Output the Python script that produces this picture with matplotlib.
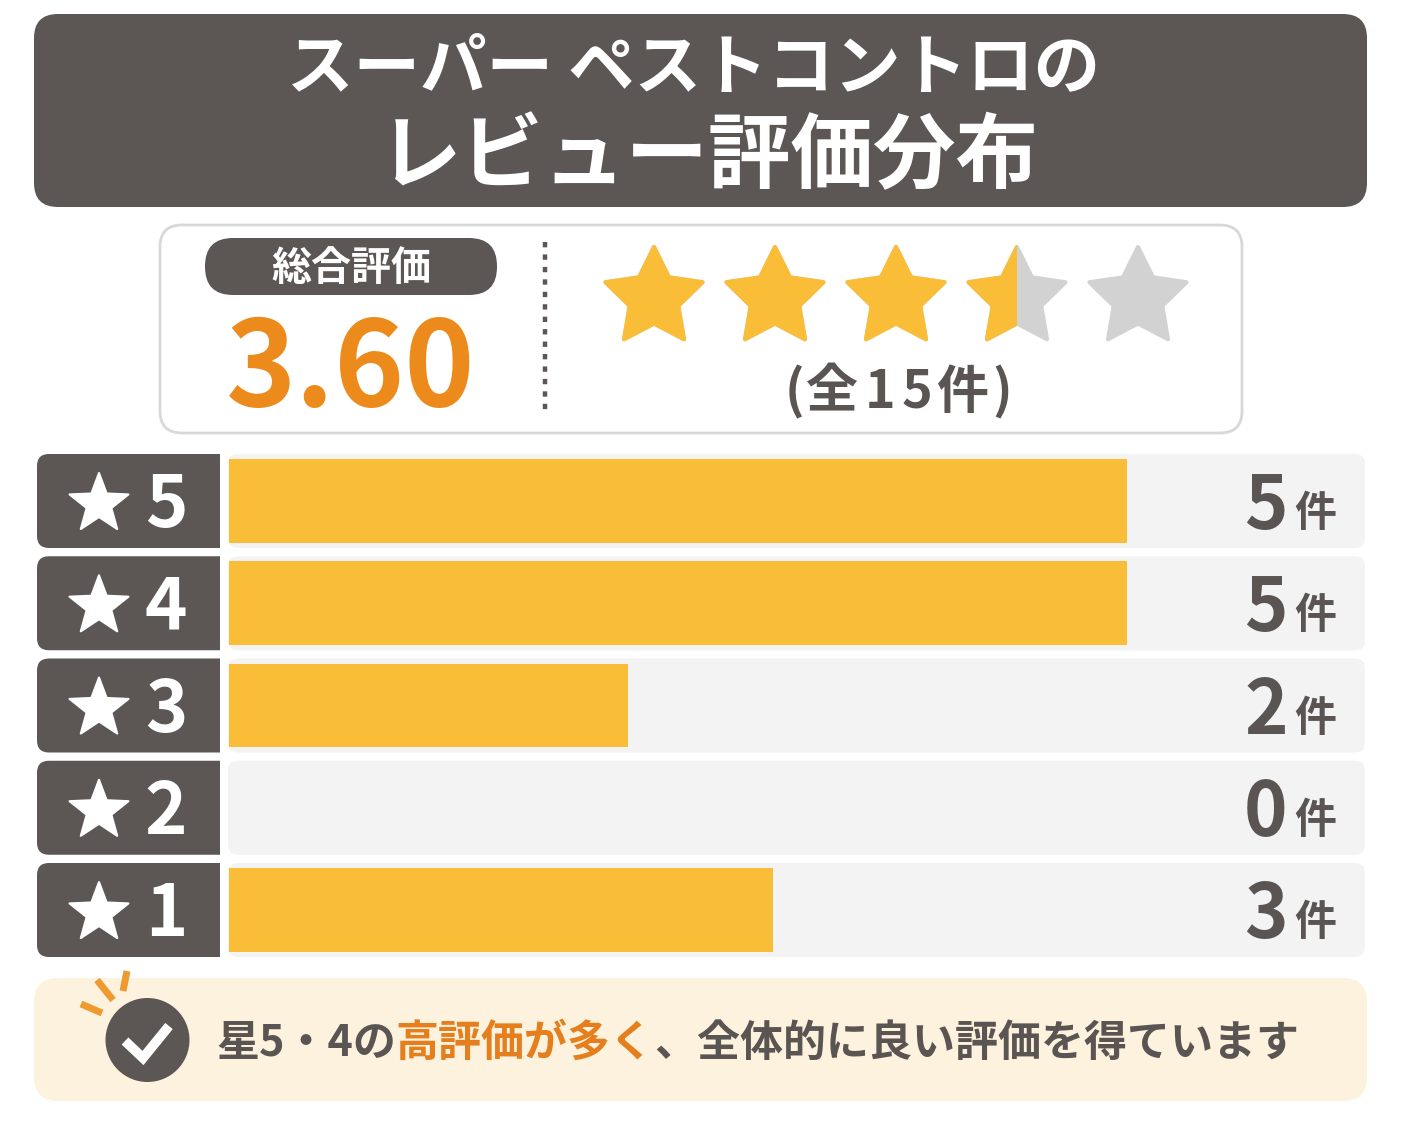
import numpy as np
import matplotlib
matplotlib.use("Agg")
import matplotlib.pyplot as plt
from matplotlib.patches import FancyBboxPatch, Polygon, Rectangle, Circle

plt.rcParams['font.family'] = ['Noto Sans CJK JP', 'DejaVu Sans']

title_lines = ["スーパー ペストコントロの", "レビュー評価分布"]
overall_label = "総合評価"
overall_score = "3.60"
total_label = "(全15件)"
star_fill = [1, 1, 1, 0.5, 0]
categories = ["5", "4", "3", "2", "1"]
counts = [5, 5, 2, 0, 3]
bar_lengths = [5, 5, 2.22, 0, 3.03]   # as drawn in the picture
count_unit = "件"
note_parts = [("星5・4の", "dark"), ("高評価が多く", "orange"), ("、全体的に良い評価を得ています", "dark")]

DARK = "#5c5654"
TEXT = "#5a5553"
ORANGE = "#ed8a1c"
NOTE_ORANGE = "#e57f1e"
YELLOW = "#fabd38"
GREY = "#d2d2d2"
TRACK = "#f3f3f3"
NOTE_BG = "#fdf2dd"

W, H = 1402, 1122
fig = plt.figure(figsize=(W/100, H/100), dpi=100, facecolor="white")
ax = fig.add_axes([0, 0, 1, 1], zorder=1)
ax.set_xlim(0, W); ax.set_ylim(H, 0); ax.axis("off")


def px(v):
    return v * 0.72


def rbox(x0, y0, x1, y1, r, fc, ec="none", lw=0, z=1, clip=None):
    p = FancyBboxPatch((x0, y0), x1-x0, y1-y0, boxstyle=f"round,pad=0,rounding_size={r}",
                       fc=fc, ec=ec, lw=lw, zorder=z)
    ax.add_patch(p)
    if clip is not None:
        p.set_clip_path(clip)
    return p


def star_xy(cx, cy, R, ratio=0.46):
    a = np.deg2rad(np.arange(10) * 36 - 90)
    r = np.where(np.arange(10) % 2 == 0, R, R * ratio)
    return np.c_[cx + r*np.cos(a), cy + r*np.sin(a)]


# header
rbox(34, 14, 1367, 207, 24, DARK)
ax.text(694, 69, title_lines[0], color="white", fontsize=px(66.5), fontweight="bold", ha="center", va="center")
ax.text(708.5, 158, title_lines[1], color="white", fontsize=px(82.5), fontweight="bold", ha="center", va="center")

# summary panel
rbox(160, 225, 1242, 433, 22, "white", ec="#d8d8d8", lw=2)
rbox(205, 238, 497, 295, 28, DARK, z=2)
ax.text(351, 268, overall_label, color="white", fontsize=px(40), fontweight="bold", ha="center", va="center", zorder=3)
ax.text(351, 371, overall_score, color=ORANGE, fontsize=px(119), fontweight="bold",
        ha="center", va="center", zorder=3)
ax.plot([545, 545], [242, 415], color=DARK, lw=3.2, ls=(0, (1.2, 1.6)), zorder=2)
for i, f in enumerate(star_fill):
    cx = 654 + i * 121
    xy = star_xy(cx, 298, 51, 0.5)
    ax.add_patch(Polygon(xy, fc=GREY, ec=GREY, lw=3, joinstyle="round", zorder=2))
    if f > 0:
        p = Polygon(xy, fc=YELLOW, ec=YELLOW, lw=3, joinstyle="round", zorder=3)
        ax.add_patch(p)
        p.set_clip_path(Rectangle((cx-60, 230), 120*f, 130, transform=ax.transData))
total_x = [794, 832, 880, 917, 962, 1002]
for ch, tx in zip(total_label, total_x):
    ax.text(tx, 392, ch, color=TEXT, fontsize=px(52), fontweight="bold", ha="center", va="center", zorder=3)

# rows
row_y = [501 + 102.25*i for i in range(5)]
for y, cat, c in zip(row_y, categories, counts):
    rbox(228, y-47, 1365, y+47, 10, TRACK)
    clip = Rectangle((30, y-50), 189.5, 100, transform=ax.transData)
    rbox(37, y-47, 260, y+47, 12, DARK, z=2, clip=clip)
    ax.add_patch(Polygon(star_xy(99, y+3, 31, 0.42), fc="white", ec="white", lw=1.5, joinstyle="round", zorder=3))
    ax.text(166, y+5, cat, color="white", fontsize=px(72), fontweight="bold", ha="center", va="center", zorder=3)
    ax.text(1266, y+6, str(c), color=TEXT, fontsize=px(74), fontweight="bold", ha="center", va="center", zorder=3)
    ax.text(1315, y+13, count_unit, color=TEXT, fontsize=px(42), fontweight="bold", ha="center", va="center", zorder=3)

bar_top = row_y[0] - 51.125
bar_bot = row_y[-1] + 51.125
bx = fig.add_axes([229/W, 1 - bar_bot/H, (1365-229)/W, (bar_bot-bar_top)/H], zorder=2)
bx.patch.set_alpha(0)
bx.set_xlim(0, (1365-229)/179.6)
bx.set_ylim(4.5, -0.5)
bx.axis("off")
bx.barh(range(len(categories)), bar_lengths, height=0.82, color=YELLOW)

# note
rbox(34, 978, 1367, 1101, 24, NOTE_BG)
for (x0, y0, x1, y1) in [(81, 1004, 102, 1013), (97, 980, 113, 1000), (127, 971, 123, 991)]:
    ax.plot([x0, x1], [y0, y1], color="#ee9a2e", lw=5, solid_capstyle="butt", zorder=2)
ax.add_patch(Circle((147.5, 1040), 42, fc=DARK, ec="none", zorder=2))
ax.plot([125, 143, 169], [1041, 1058, 1026], color="white", lw=7, solid_joinstyle="miter",
        solid_capstyle="butt", zorder=3)

fig.canvas.draw()
rend = fig.canvas.get_renderer()
x = 216
for s, kind in note_parts:
    t = ax.text(x, 1043, s, color=TEXT if kind == "dark" else NOTE_ORANGE, fontsize=px(43),
                fontweight="bold", ha="left", va="center", zorder=3)
    x = t.get_window_extent(rend).x1 + 0.0

fig.savefig("out.png", dpi=100, facecolor="white")
